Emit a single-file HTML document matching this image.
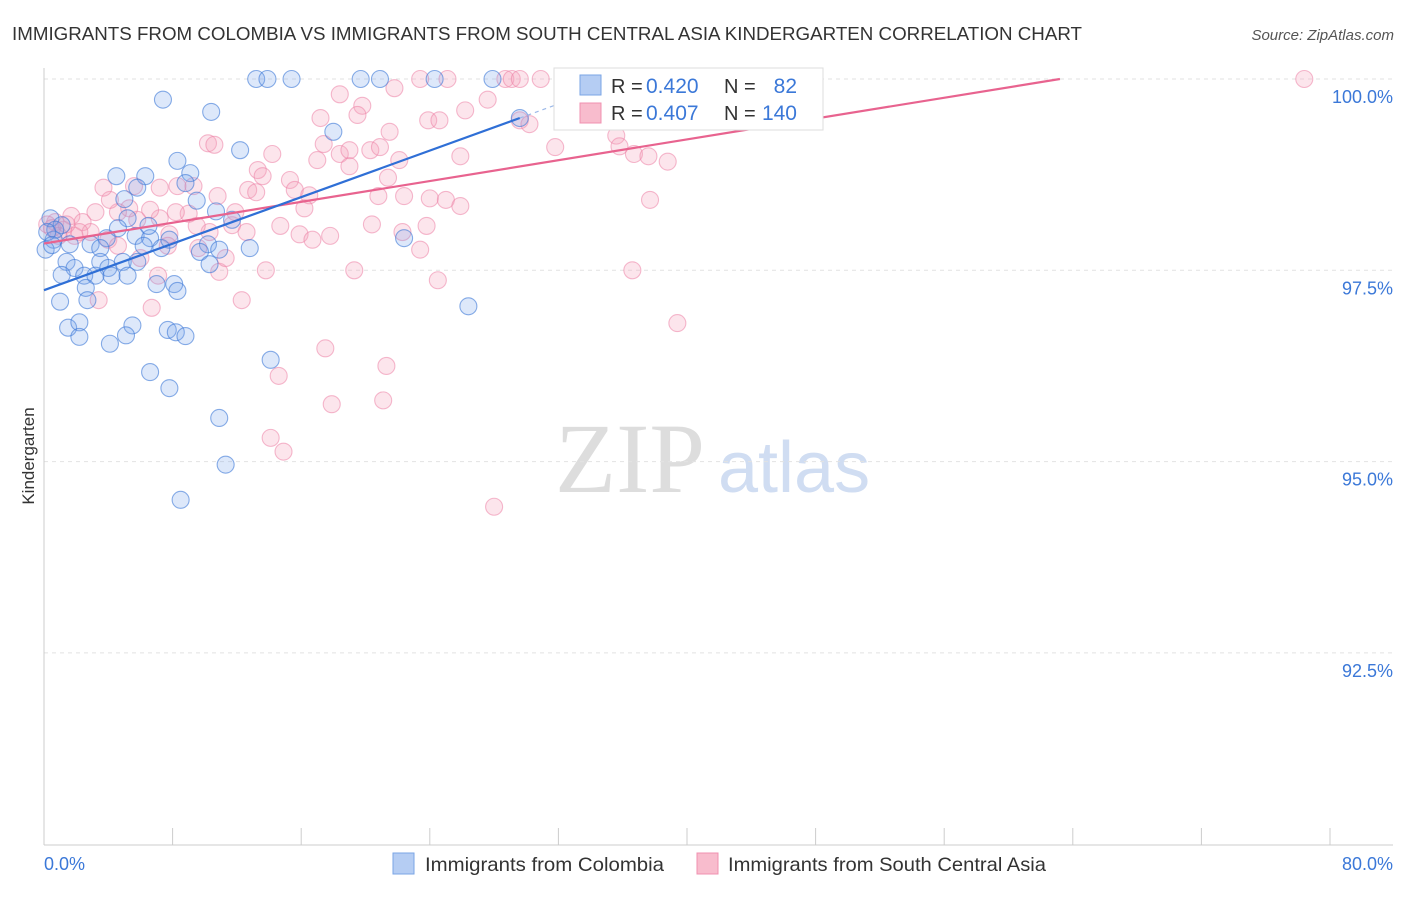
<!DOCTYPE html>
<html><head><meta charset="utf-8"><style>
body{margin:0;background:#fff;font-family:"Liberation Sans",sans-serif;}
</style></head><body>
<svg id="c" width="1406" height="892" xmlns="http://www.w3.org/2000/svg">
<text x="12" y="40" font-size="18" fill="#333" textLength="1070" lengthAdjust="spacingAndGlyphs">IMMIGRANTS FROM COLOMBIA VS IMMIGRANTS FROM SOUTH CENTRAL ASIA KINDERGARTEN CORRELATION CHART</text>
<text x="1394" y="40" font-size="15" fill="#555" font-style="italic" text-anchor="end">Source: ZipAtlas.com</text>
<text x="34" y="456" font-size="17" fill="#333" text-anchor="middle" transform="rotate(-90 34 456)">Kindergarten</text>
<text x="555" y="492" font-size="100" fill="#ddd" font-family="Liberation Serif,serif">ZIP</text>
<text x="718" y="492" font-size="72" fill="#d0ddf2">atlas</text>
<g id="grid"></g><g id="pts"></g><g id="lines"></g>
<g>
<rect x="554" y="68" width="269" height="62" fill="#fff" stroke="#ddd"/>
<rect x="580" y="75" width="21" height="20" fill="#b5cdf3" stroke="#7aa5e6"/>
<rect x="580" y="103" width="21" height="20" fill="#f8bccd" stroke="#f090b0"/>
<text x="611" y="93" font-size="20" fill="#333">R =</text>
<text x="646" y="93" font-size="21" fill="#3b78d8">0.420</text>
<text x="724" y="93" font-size="20" fill="#333">N =</text>
<text x="797" y="93" font-size="21" fill="#3b78d8" text-anchor="end">82</text>
<text x="611" y="120" font-size="20" fill="#333">R =</text>
<text x="646" y="120" font-size="21" fill="#3b78d8">0.407</text>
<text x="724" y="120" font-size="20" fill="#333">N =</text>
<text x="797" y="120" font-size="21" fill="#3b78d8" text-anchor="end">140</text>
</g>
<g>
<rect x="393" y="853" width="21" height="21" fill="#b5cdf3" stroke="#7aa5e6"/>
<text x="425" y="871" font-size="19.5" fill="#333" textLength="239" lengthAdjust="spacingAndGlyphs">Immigrants from Colombia</text>
<rect x="697" y="853" width="21" height="21" fill="#f8bccd" stroke="#f090b0"/>
<text x="728" y="871" font-size="19.5" fill="#333" textLength="318" lengthAdjust="spacingAndGlyphs">Immigrants from South Central Asia</text>
</g>
<text x="44" y="870" font-size="18" fill="#3b78d8">0.0%</text>
<text x="1393" y="870" font-size="18" fill="#3b78d8" text-anchor="end">80.0%</text>
</svg>
<script>
const yTicks=[100,97.5,95,92.5];
const yTickLabels=["100.0%","97.5%","95.0%","92.5%"];
const xTicks=[0,8,16,24,32,40,48,56,64,72,80];
const blueX=[13.2,13.9,15.4,19.7,20.9,24.3,27.9,7.4,10.4,18.0,12.2,8.3,9.1,4.5,6.3,5.8,8.8,5.0,9.5,10.7,0.4,1.1,5.2,3.9,5.7,6.6,7.3,10.2,12.8,9.7,0.6,1.6,2.9,3.5,4.6,6.5,1.4,3.5,4.9,5.8,1.9,4.0,1.1,2.5,3.2,4.2,5.2,7.0,8.1,8.3,2.6,1.0,2.7,1.5,2.2,2.2,5.5,5.1,4.1,7.7,8.2,8.8,6.6,7.8,14.1,10.9,11.3,8.5,26.4,22.4,29.6,10.3,11.7,10.9,0.7,0.1,7.8,6.2,0.2,0.5];
const blueY=[100,100,100,100,100,100,100,99.73,99.57,99.31,99.07,98.93,98.77,98.73,98.73,98.58,98.64,98.43,98.41,98.27,98.18,98.09,98.18,97.92,97.95,97.92,97.79,97.84,97.79,97.74,97.90,97.84,97.84,97.79,98.05,98.08,97.61,97.61,97.61,97.61,97.53,97.53,97.44,97.43,97.43,97.43,97.43,97.32,97.32,97.23,97.27,97.09,97.11,96.75,96.82,96.63,96.78,96.65,96.54,96.72,96.69,96.64,96.17,95.96,96.33,95.57,94.96,94.50,97.03,97.92,99.49,97.58,98.16,97.77,98.03,97.77,97.90,97.82,98.00,97.83];
const pinkX=[78.4,23.4,25.1,28.7,29.1,29.6,30.9,41.8,21.8,18.4,19.8,17.2,19.5,17.4,18.4,20.3,21.5,19.0,20.9,23.9,24.6,26.2,27.6,29.6,30.2,31.8,35.6,36.7,37.6,38.8,35.8,25.9,22.1,21.4,19.0,17.0,14.2,13.3,13.6,12.7,13.2,15.3,15.6,16.5,16.2,20.8,20.4,15.9,16.7,17.8,14.7,22.3,23.8,23.4,24.0,25.0,25.9,22.4,37.7,36.6,39.4,28.0,24.5,21.3,21.1,17.9,17.5,14.6,14.1,14.9,12.3,13.8,19.3,10.2,10.6,10.8,11.7,12.6,11.9,10.3,9.5,9.0,8.2,7.8,7.2,6.6,5.8,5.3,4.6,4.1,3.7,5.6,7.2,8.3,9.3,1.7,2.4,2.9,3.2,4.0,4.6,1.2,1.9,0.7,0.9,0.2,0.5,2.2,1.4,10.9,11.3,9.6,7.1,6.7,3.4,7.7,6.0];
const pinkY=[100,100,100,100,100,100,100,100,99.88,99.80,99.65,99.49,99.53,99.15,99.02,99.07,99.31,99.07,99.11,99.46,99.46,99.59,99.73,99.46,99.41,99.11,99.26,99.02,98.99,98.92,99.12,98.99,98.94,98.71,98.86,98.94,99.02,98.81,98.73,98.55,98.52,98.68,98.55,98.48,98.31,98.47,98.10,97.97,97.90,97.95,98.08,98.00,98.08,97.77,98.44,98.42,98.34,98.47,98.42,97.50,96.81,94.41,97.37,96.25,95.80,95.75,96.48,96.12,95.31,95.13,97.11,97.50,97.50,99.16,99.14,98.47,98.09,98.00,98.26,98.00,98.08,98.24,98.26,97.97,98.18,98.29,98.16,98.31,98.26,98.42,98.58,98.60,98.58,98.60,98.60,98.21,98.13,98.00,98.26,97.90,97.82,98.03,97.95,98.13,97.95,98.10,98.05,98.00,98.10,97.48,97.66,97.79,97.43,97.01,97.11,97.82,97.66];
const blueTrend=[[0,97.24],[29.6,99.49]];
const blueDash=[[29.6,99.49],[33,99.75]];
const pinkTrend=[[0,97.85],[63.2,100]];
const NS="http://www.w3.org/2000/svg";
const X=v=>44+v/80*1286, Y=v=>79+(100-v)/2.5*191.3;
function mk(t,a,p){const e=document.createElementNS(NS,t);for(const k in a)e.setAttribute(k,a[k]);p.appendChild(e);return e;}
const g=document.getElementById('grid');
yTicks.forEach((t,i)=>{
 const l=mk('line',{x1:44,x2:1393,y1:Y(t),y2:Y(t),stroke:'#e2e2e2','stroke-dasharray':'4,4'},g);
 
 
 const tx=mk('text',{x:1393,y:Y(t)+24,'font-size':18,fill:'#3b78d8','text-anchor':'end'},g);
 tx.textContent=yTickLabels[i];
 
 
});
const ax=mk('line',{x1:44,x2:44,y1:68,y2:845,stroke:'#ccc'},g);


const bx=mk('line',{x1:44,x2:1393,y1:845,y2:845,stroke:'#ccc'},g);


xTicks.forEach(t=>{
 const l=mk('line',{x1:X(t),x2:X(t),y1:828,y2:845,stroke:'#ccc'},g);
 
 
});
const p=document.getElementById('pts');
function pts(xs,ys,f,s,n){xs.forEach((x,i)=>{
 const c=mk('circle',{cx:X(x),cy:Y(ys[i]),r:8.5,fill:f,stroke:s,'stroke-width':1.1},p);
 
 
});}
pts(pinkX,pinkY,'rgba(244,160,188,0.28)','rgba(236,130,165,0.55)','pink-point');
pts(blueX,blueY,'rgba(120,165,235,0.25)','rgba(60,120,215,0.6)','blue-point');
const L=document.getElementById('lines');
function ln(a,c,w,d,n){const e=mk('line',{x1:X(a[0][0]),y1:Y(a[0][1]),x2:X(a[1][0]),y2:Y(a[1][1]),stroke:c,'stroke-width':w},L);if(d)e.setAttribute('stroke-dasharray',d);
 
 }
ln(pinkTrend,'#e8638f',2.2,null,'pink-trend-line');
ln(blueTrend,'#2f6fd6',2.2,null,'blue-trend-line');
ln(blueDash,'#9bb8e8',1.2,'4,4','blue-trend-extension');
</script>
</body></html>
